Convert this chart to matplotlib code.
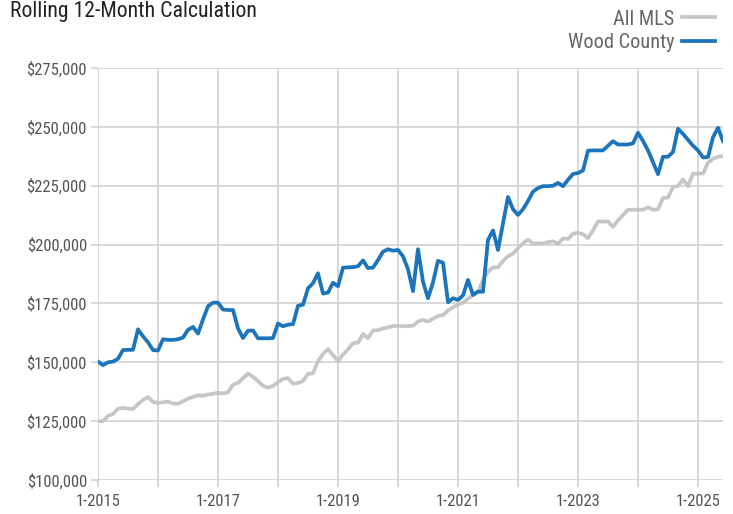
import matplotlib
matplotlib.use("Agg")
import matplotlib.pyplot as plt
import numpy as np
import pandas as pd
from matplotlib.ticker import FuncFormatter, MultipleLocator

plt.rcParams['font.family'] = ['Roboto Condensed', 'Liberation Sans Narrow', 'Roboto', 'DejaVu Sans']

# monthly values, 1-2015 .. 6-2025 (in $1,000)
months = pd.date_range("2015-01-01", "2025-06-01", freq="MS")

wood_county = [
    150.3, 148.8, 150.0, 150.3, 151.5, 155.2, 155.3, 155.3, 164.0, 161.0, 158.5, 155.2,
    155.0, 159.8, 159.5, 159.5, 159.8, 160.5, 163.8, 165.0, 162.2, 168.2, 173.8, 175.3,
    175.3, 172.4, 172.2, 172.2, 164.4, 160.3, 163.4, 163.5, 160.2, 160.2, 160.2, 160.3,
    166.5, 165.3, 166.0, 166.2, 174.0, 174.5, 181.4, 183.6, 187.8, 179.2, 179.6, 183.8,
    182.3, 190.2, 190.3, 190.4, 190.8, 193.3, 190.0, 190.2, 193.4, 197.0, 198.0, 197.4,
    197.7, 195.0, 189.5, 180.2, 198.0, 184.2, 177.2, 184.0, 193.1, 192.3, 175.5, 177.2,
    176.5, 178.4, 185.0, 178.6, 180.0, 180.0, 202.0, 206.0, 197.7, 209.0, 220.2, 215.0,
    212.6, 215.0, 218.5, 222.5, 224.0, 224.8, 224.8, 225.0, 226.2, 224.8, 227.5, 230.0,
    230.4, 231.5, 239.9, 240.0, 240.0, 240.0, 242.0, 243.9, 242.5, 242.5, 242.5, 243.0,
    247.5, 244.0, 240.0, 235.0, 229.9, 237.3, 237.3, 239.3, 249.2, 247.0, 244.5, 242.0,
    240.0, 237.0, 237.2, 245.6, 249.6, 243.9,
]

all_mls = [
    125.0, 125.0, 127.2, 128.0, 130.3, 130.6, 130.3, 130.2, 132.2, 134.0, 135.2, 133.2,
    132.7, 133.0, 133.3, 132.5, 132.4, 133.4, 134.6, 135.2, 136.0, 135.8, 136.3, 136.6,
    137.0, 136.8, 137.2, 140.5, 141.2, 143.2, 145.2, 143.8, 142.0, 140.0, 139.2, 140.0,
    141.5, 142.9, 143.3, 140.9, 141.2, 142.0, 145.1, 145.3, 150.5, 153.5, 155.6, 153.0,
    150.5, 153.3, 155.5, 158.1, 158.3, 162.0, 160.3, 163.5, 163.6, 164.4, 164.8, 165.4,
    165.5, 165.3, 165.4, 165.5, 167.3, 168.0, 167.3, 168.5, 169.7, 170.0, 172.0, 173.4,
    174.5, 175.3, 177.0, 178.6, 180.0, 185.0, 188.5, 190.3, 190.3, 193.0, 195.1, 196.2,
    198.5, 200.5, 202.0, 200.5, 200.5, 200.5, 201.0, 201.4, 200.3, 202.6, 202.4, 204.6,
    205.0, 204.4, 202.7, 206.0, 209.8, 209.8, 209.8, 207.5, 210.3, 212.5, 214.8, 214.8,
    214.8, 214.8, 215.8, 214.8, 215.0, 219.8, 220.0, 224.5, 224.8, 227.7, 224.8, 230.1,
    230.1, 230.2, 234.8, 236.5, 237.3, 237.5,
]

series_names = ["All MLS", "Wood County"]
year_labels = ["1-2015", "", "1-2017", "", "1-2019", "", "1-2021", "", "1-2023", "", "1-2025"]

x = np.arange(len(months))
wood = np.array(wood_county) * 1000
mls = np.array(all_mls) * 1000

fig = plt.figure(figsize=(7.33, 5.14), dpi=100)
ax = fig.add_axes([98 / 733, 1 - 480 / 514, (723 - 98) / 733, (480 - 68) / 514])

grid_c = "#d4d4d4"
ax.plot(x, mls, color="#c6c6c6", lw=2.7, label=series_names[0], solid_joinstyle="round", zorder=3)
ax.plot(x, wood, color="#1c74ba", lw=2.7, label=series_names[1], solid_joinstyle="round", zorder=4)

ax.set_xlim(0, len(months) - 1)
ax.set_ylim(100000, 275000)
ax.yaxis.set_major_locator(MultipleLocator(25000))
ax.yaxis.set_major_formatter(FuncFormatter(lambda v, p: "${:,.0f}".format(v)))
ax.set_xticks(np.arange(0, len(months), 12))
ax.set_xticklabels(year_labels)

ax.grid(True, color=grid_c, lw=1.3, zorder=0)
for s in ax.spines.values():
    s.set_visible(False)
ax.tick_params(axis="both", colors=grid_c, length=5, width=1.3, labelcolor="#555555", labelsize=12)
ax.tick_params(axis="x", pad=5)
ax.tick_params(axis="y", pad=3)

fig.text(10 / 733, 1 - 12 / 514, "Rolling 12-Month Calculation", fontsize=15.7,
         color="#222222", ha="left", va="center")

leg = ax.legend(loc="lower right", bbox_to_anchor=(1.0, 1.02), frameon=False,
                markerfirst=False, fontsize=14.6, handlelength=1.6, labelspacing=0.2,
                borderaxespad=0, handletextpad=0.4)
for t in leg.get_texts():
    t.set_color("#666666")

fig.savefig("out.png", dpi=100)
